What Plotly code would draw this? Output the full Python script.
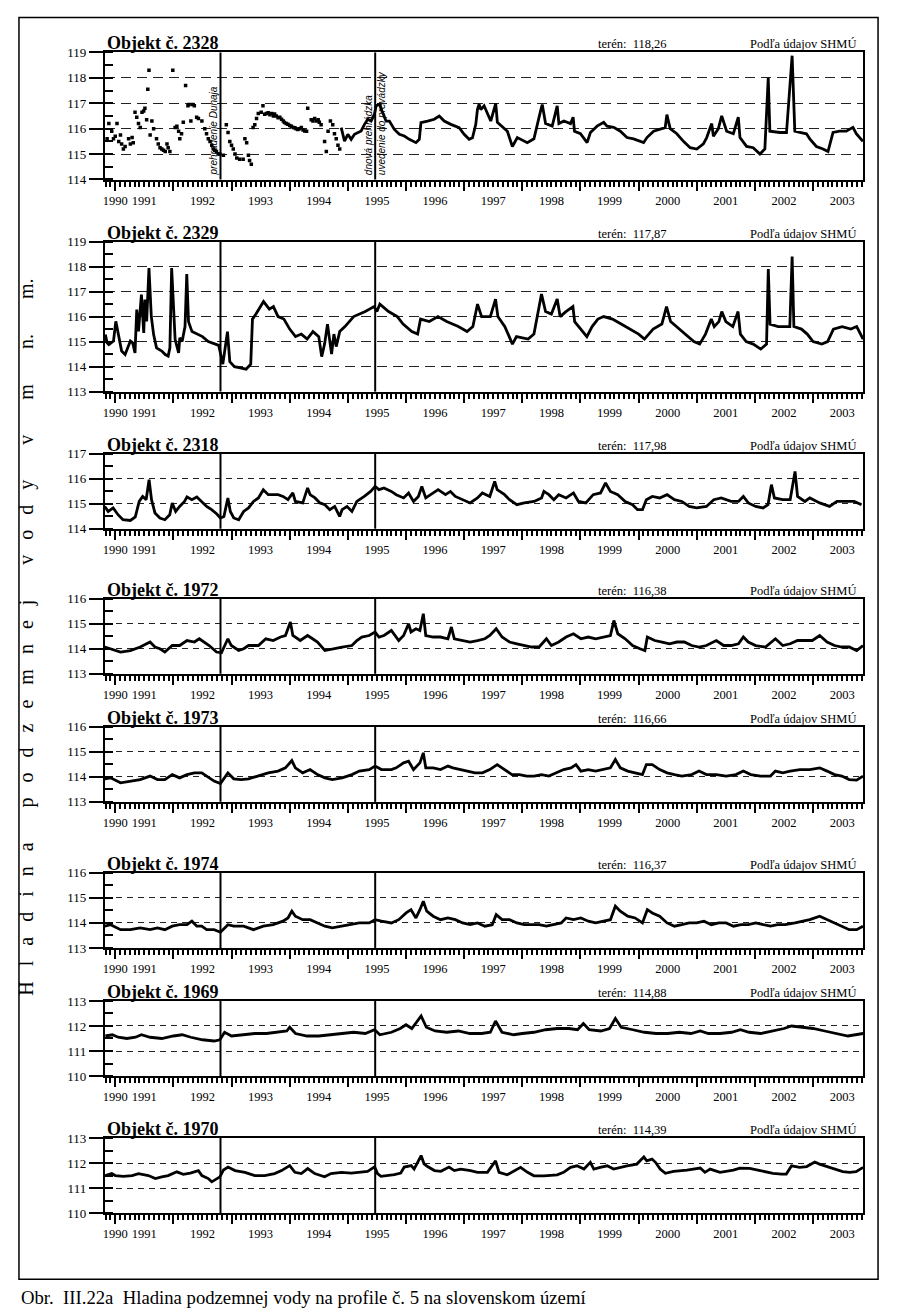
import plotly.graph_objects as go

W, H = 900, 1313
FONT = "Liberation Serif"

OBJECTS = ["2328", "2329", "2318", "1972", "1973", "1974", "1969", "1970"]
TERRAIN = ["118,26", "117,87", "117,98", "116,38", "116,66", "116,37", "114,88", "114,39"]
Y_RANGES = [(114, 119), (113, 119), (114, 117), (113, 116), (113, 116), (113, 116), (110, 113), (110, 113)]
X_RANGE = [1990.82, 2003.86]
YEAR_TICKS = list(range(1991, 2004))
YEAR_LABELS = [str(y) for y in range(1990, 2004)]
YEAR_LABEL_POS = [1991.0] + [y + 0.5 for y in range(1991, 2004)]
EVENTS = [1992.81, 1995.47]

# ---- Objekt 2328: sparse measurements (dots) ----
T2328_DOTS = [
    1990.86, 1990.89, 1990.94, 1990.97, 1991.0, 1991.03, 1991.06, 1991.09, 1991.11, 1991.14,
    1991.17, 1991.23, 1991.26, 1991.29, 1991.31, 1991.34, 1991.37, 1991.4, 1991.43, 1991.46,
    1991.49, 1991.51, 1991.54, 1991.56, 1991.58, 1991.6, 1991.63, 1991.66, 1991.71, 1991.74,
    1991.77, 1991.8, 1991.83, 1991.86, 1991.89, 1991.91, 1991.94, 1991.99, 1992.03, 1992.06,
    1992.09, 1992.11, 1992.14, 1992.17, 1992.21, 1992.25, 1992.27, 1992.3, 1992.33, 1992.36,
    1992.4, 1992.43, 1992.49, 1992.54, 1992.57, 1992.6, 1992.63, 1992.66, 1992.69, 1992.71,
    1992.74, 1992.77, 1992.8, 1992.86, 1992.91, 1992.94, 1992.97, 1993.0, 1993.03, 1993.06,
    1993.09, 1993.14, 1993.2, 1993.23, 1993.26, 1993.29, 1993.31, 1993.34, 1993.37, 1993.4,
    1993.43, 1993.46, 1993.51, 1993.54, 1993.57, 1993.6, 1993.63, 1993.66, 1993.69, 1993.72,
    1993.74, 1993.77, 1993.8, 1993.83, 1993.86, 1993.89, 1993.91, 1993.94, 1993.97, 1994.0,
    1994.03, 1994.06, 1994.09, 1994.11, 1994.14, 1994.17, 1994.2, 1994.23, 1994.26, 1994.29,
    1994.31, 1994.37, 1994.4, 1994.43, 1994.46, 1994.49, 1994.51, 1994.54, 1994.6, 1994.63,
    1994.66, 1994.7, 1994.74, 1994.77, 1994.8, 1994.83, 1994.86,
]
V2328_DOTS = [
    115.6, 116.2, 115.9, 115.6, 115.7, 116.2, 115.5, 115.75, 115.4, 115.2,
    115.3, 115.6, 115.4, 115.65, 115.45, 116.65, 116.45, 116.2, 116.05, 116.65,
    116.7, 116.8, 116.35, 117.55, 118.3, 115.75, 116.3, 116.0, 115.6, 115.4,
    115.25, 115.2, 115.15, 115.1, 115.4, 115.25, 115.1, 118.3, 116.05, 116.1,
    115.9, 115.6, 115.8, 116.25, 117.7, 116.9, 116.95, 116.3, 116.95, 116.9,
    116.45, 116.4, 116.3, 116.0, 115.8, 115.6, 115.5, 115.35, 115.2, 115.15,
    115.1, 115.0, 115.0, 114.95, 116.15, 115.85, 115.5, 115.35, 115.2, 115.0,
    114.85, 114.8, 114.8, 115.6, 115.45, 114.95, 114.75, 114.6, 116.05, 116.15,
    116.4, 116.6, 116.65, 116.9, 116.57, 116.6, 116.63, 116.55, 116.6, 116.5,
    116.58, 116.5, 116.43, 116.45, 116.37, 116.3, 116.24, 116.2, 116.17, 116.12,
    116.1, 116.05, 116.04, 116.0, 115.97, 116.0, 116.05, 115.95, 115.91, 115.9,
    116.8, 116.35, 116.3, 116.4, 116.3, 116.35, 116.25, 116.15, 115.5, 115.1,
    115.9, 116.3, 116.15, 115.8, 115.6, 115.35, 115.2,
]

# ---- Objekt 2328: continuous record ----
T2328 = [
    1994.886, 1994.914, 1994.943, 1995.0, 1995.057, 1995.114, 1995.171, 1995.229, 1995.286, 1995.343,
    1995.4, 1995.457, 1995.486, 1995.543, 1995.6, 1995.657, 1995.714, 1995.8, 1995.886, 1995.971,
    1996.057, 1996.171, 1996.229, 1996.257, 1996.371, 1996.486, 1996.571, 1996.657, 1996.771, 1996.857,
    1996.914, 1997.0, 1997.086, 1997.143, 1997.2, 1997.229, 1997.257, 1997.286, 1997.343, 1997.457,
    1997.543, 1997.571, 1997.743, 1997.829, 1997.914, 1998.086, 1998.2, 1998.314, 1998.343, 1998.4,
    1998.514, 1998.6, 1998.629, 1998.714, 1998.829, 1998.874, 1998.897, 1999.0, 1999.114, 1999.171,
    1999.286, 1999.4, 1999.457, 1999.571, 1999.686, 1999.8, 1999.914, 2000.086, 2000.143, 2000.257,
    2000.371, 2000.457, 2000.486, 2000.543, 2000.657, 2000.771, 2000.886, 2001.0, 2001.114, 2001.171,
    2001.257, 2001.286, 2001.371, 2001.429, 2001.514, 2001.629, 2001.714, 2001.743, 2001.857, 2001.971,
    2002.086, 2002.171, 2002.229, 2002.257, 2002.429, 2002.543, 2002.64, 2002.686, 2002.771, 2002.886,
    2002.943, 2003.057, 2003.171, 2003.257, 2003.343, 2003.457, 2003.571, 2003.686, 2003.743, 2003.857,
]
V2328 = [
    116.04, 115.71, 115.51, 115.78, 115.58, 115.78, 115.84, 115.91, 116.17, 116.37,
    116.3, 116.57, 116.9, 116.96, 116.63, 116.3, 116.3, 115.97, 115.78, 115.71,
    115.58, 115.45, 115.58, 116.24, 116.3, 116.37, 116.5, 116.3, 116.17, 116.1,
    116.04, 115.78, 115.58, 115.64, 116.17, 116.76, 116.96, 116.75, 116.9, 116.3,
    117.0, 116.25, 115.9, 115.3, 115.65, 115.45, 115.6, 116.7, 116.95, 116.2,
    116.1, 116.9, 116.2, 116.3, 116.2, 116.45, 115.9, 115.8, 115.45, 115.85,
    116.1, 116.25, 116.1, 116.05, 115.9, 115.65, 115.6, 115.45, 115.65, 115.9,
    115.97, 116.04, 116.55, 116.0, 115.8, 115.5, 115.25, 115.2, 115.4, 115.65,
    116.2, 115.7, 116.0, 116.5, 115.9, 115.8, 116.45, 115.65, 115.3, 115.25,
    115.0, 115.2, 118.0, 115.9, 115.85, 115.85, 118.87, 115.9, 115.85, 115.8,
    115.6, 115.3, 115.2, 115.1, 115.85, 115.9, 115.9, 116.05, 115.8, 115.5,
]

# ---- Objekt 2329 ----
T2329 = [
    1990.83, 1990.86, 1990.89, 1990.94, 1990.97, 1991.01, 1991.04, 1991.07, 1991.11, 1991.17,
    1991.23, 1991.26, 1991.3, 1991.34, 1991.37, 1991.4, 1991.45, 1991.49, 1991.51, 1991.54,
    1991.58, 1991.62, 1991.66, 1991.71, 1991.8, 1991.86, 1991.91, 1991.94, 1991.97, 1992.0,
    1992.03, 1992.09, 1992.11, 1992.15, 1992.2, 1992.23, 1992.26, 1992.32, 1992.4, 1992.5,
    1992.6, 1992.7, 1992.78, 1992.85, 1992.93, 1992.97, 1993.05, 1993.15, 1993.25, 1993.33,
    1993.36, 1993.42, 1993.5, 1993.55, 1993.65, 1993.72, 1993.8, 1993.9, 1994.0, 1994.1,
    1994.2, 1994.3, 1994.4, 1994.5, 1994.55, 1994.6, 1994.65, 1994.72, 1994.76, 1994.8,
    1994.86, 1994.95, 1995.1, 1995.3, 1995.45, 1995.5, 1995.55, 1995.7, 1995.85, 1995.95,
    1996.1, 1996.2, 1996.25, 1996.4, 1996.55, 1996.7, 1996.9, 1997.05, 1997.15, 1997.23,
    1997.3, 1997.45, 1997.54, 1997.58, 1997.7, 1997.8, 1997.83, 1997.9, 1998.1, 1998.2,
    1998.33, 1998.4, 1998.5, 1998.6, 1998.65, 1998.75, 1998.87, 1998.9, 1999.0, 1999.11,
    1999.2, 1999.3, 1999.4, 1999.55, 1999.7, 1999.85, 2000.0, 2000.1, 2000.25, 2000.4,
    2000.48, 2000.55, 2000.65, 2000.8, 2000.95, 2001.05, 2001.15, 2001.25, 2001.3, 2001.38,
    2001.43, 2001.5, 2001.62, 2001.71, 2001.75, 2001.85, 2001.97, 2002.1, 2002.2, 2002.23,
    2002.26, 2002.4, 2002.6, 2002.64, 2002.67, 2002.8, 2002.9, 2003.0, 2003.15, 2003.25,
    2003.35, 2003.5, 2003.65, 2003.75, 2003.86,
]
V2329 = [
    115.28, 114.95, 114.88, 114.95, 115.02, 115.81, 115.48, 115.08, 114.62, 114.48,
    114.82, 115.02, 114.95, 114.55, 116.28, 115.41, 116.88, 115.35, 116.68, 115.81,
    117.94, 116.01, 115.28, 114.75, 114.62, 114.48, 114.42, 114.75, 117.94, 116.68,
    115.08, 114.55, 115.15, 115.0, 115.6, 117.7, 115.8, 115.4, 115.3, 115.2,
    115.0, 114.9, 114.85, 114.1, 115.4, 114.2, 114.0, 113.95, 113.9, 114.1,
    115.9, 116.1, 116.4, 116.6, 116.3, 116.4, 116.0, 115.9, 115.5, 115.2,
    115.3, 115.1, 115.4, 115.2, 114.4, 114.9, 115.7, 114.5, 115.3, 114.8,
    115.4, 115.6, 116.0, 116.2, 116.4, 116.2, 116.5, 116.2, 116.0, 115.7,
    115.4, 115.3, 115.9, 115.8, 116.0, 115.8, 115.6, 115.4, 115.6, 116.5,
    116.0, 116.0, 116.7, 116.0, 115.6, 115.1, 114.9, 115.2, 115.1, 115.3,
    116.9, 116.2, 116.1, 116.7, 116.0, 116.2, 116.4, 115.8, 115.5, 115.2,
    115.6, 115.9, 116.0, 115.9, 115.7, 115.5, 115.3, 115.1, 115.5, 115.7,
    116.4, 115.8, 115.6, 115.3, 115.0, 114.9, 115.3, 115.9, 115.6, 115.8,
    116.2, 115.8, 115.6, 116.2, 115.3, 115.0, 114.9, 114.7, 114.9, 117.9,
    115.7, 115.6, 115.6, 118.4, 115.6, 115.5, 115.3, 115.0, 114.9, 115.0,
    115.5, 115.6, 115.5, 115.6, 115.1,
]

# ---- Objekt 2318 ----
T2318 = [
    1990.82, 1990.879, 1990.964, 1991.048, 1991.133, 1991.26, 1991.345, 1991.412, 1991.472, 1991.531,
    1991.582, 1991.624, 1991.683, 1991.768, 1991.853, 1991.937, 1991.98, 1992.039, 1992.107, 1992.191,
    1992.234, 1992.318, 1992.403, 1992.488, 1992.572, 1992.657, 1992.742, 1992.81, 1992.869, 1992.937,
    1992.979, 1993.038, 1993.123, 1993.208, 1993.292, 1993.377, 1993.462, 1993.546, 1993.631, 1993.8,
    1993.885, 1993.97, 1994.054, 1994.097, 1994.224, 1994.308, 1994.351, 1994.435, 1994.52, 1994.605,
    1994.689, 1994.774, 1994.859, 1994.901, 1994.986, 1995.07, 1995.155, 1995.282, 1995.392, 1995.468,
    1995.536, 1995.621, 1995.748, 1995.832, 1995.959, 1996.044, 1996.129, 1996.213, 1996.272, 1996.34,
    1996.425, 1996.552, 1996.679, 1996.764, 1996.848, 1996.975, 1997.102, 1997.229, 1997.314, 1997.441,
    1997.525, 1997.568, 1997.695, 1997.78, 1997.907, 1998.034, 1998.203, 1998.33, 1998.372, 1998.457,
    1998.542, 1998.626, 1998.753, 1998.88, 1998.965, 1999.092, 1999.219, 1999.346, 1999.431, 1999.515,
    1999.642, 1999.769, 1999.896, 1999.981, 2000.066, 2000.133, 2000.235, 2000.362, 2000.489, 2000.616,
    2000.743, 2000.87, 2000.997, 2001.166, 2001.293, 2001.42, 2001.59, 2001.717, 2001.801, 2001.886,
    2002.013, 2002.14, 2002.225, 2002.284, 2002.335, 2002.479, 2002.606, 2002.69, 2002.733, 2002.86,
    2002.944, 2003.114, 2003.283, 2003.41, 2003.537, 2003.707, 2003.834,
]
V2318 = [
    114.89, 114.69, 114.83, 114.56, 114.36, 114.33, 114.47, 115.09, 115.29, 115.16,
    115.96, 115.16, 114.63, 114.43, 114.36, 114.56, 115.03, 114.69, 114.89, 115.09,
    115.27, 115.16, 115.27, 115.09, 114.89, 114.76, 114.6, 114.43, 114.49, 115.23,
    114.69, 114.43, 114.36, 114.69, 114.83, 115.09, 115.23, 115.56, 115.36, 115.36,
    115.29, 115.16, 115.43, 115.09, 115.03, 115.63, 115.36, 115.23, 115.03, 114.96,
    114.76, 114.89, 114.49, 114.76, 114.89, 114.69, 115.09, 115.29, 115.49, 115.69,
    115.56, 115.63, 115.49, 115.36, 115.23, 115.43, 115.09, 115.29, 115.69, 115.23,
    115.36, 115.56, 115.36, 115.49, 115.29, 115.16, 115.03, 115.23, 115.43, 115.29,
    115.89, 115.56, 115.36, 115.16, 114.96, 115.03, 115.09, 115.23, 115.49, 115.36,
    115.16, 115.36, 115.23, 115.43, 115.09, 115.03, 115.36, 115.43, 115.83, 115.49,
    115.36, 115.09, 114.96, 114.76, 114.76, 115.16, 115.29, 115.23, 115.36, 115.16,
    115.09, 114.89, 114.83, 114.89, 115.16, 115.23, 115.09, 115.09, 115.29, 115.03,
    114.89, 114.83, 114.96, 115.76, 115.23, 115.16, 115.16, 116.29, 115.29, 115.09,
    115.23, 115.03, 114.89, 115.09, 115.09, 115.09, 114.96,
]

# ---- Objekt 1972 ----
T1972 = [
    1990.82, 1990.921, 1991.091, 1991.26, 1991.429, 1991.599, 1991.683, 1991.768, 1991.853, 1991.98,
    1992.107, 1992.234, 1992.361, 1992.445, 1992.53, 1992.615, 1992.742, 1992.826, 1992.937, 1992.996,
    1993.123, 1993.208, 1993.292, 1993.462, 1993.589, 1993.716, 1993.843, 1993.927, 1994.012, 1994.054,
    1994.181, 1994.308, 1994.393, 1994.478, 1994.605, 1994.732, 1994.901, 1995.07, 1995.155, 1995.24,
    1995.367, 1995.468, 1995.536, 1995.621, 1995.748, 1995.875, 1995.959, 1996.044, 1996.086, 1996.171,
    1996.239, 1996.298, 1996.34, 1996.467, 1996.594, 1996.721, 1996.78, 1996.831, 1996.975, 1997.102,
    1997.229, 1997.356, 1997.441, 1997.551, 1997.652, 1997.78, 1997.907, 1998.034, 1998.161, 1998.288,
    1998.415, 1998.5, 1998.626, 1998.753, 1998.88, 1999.007, 1999.134, 1999.261, 1999.388, 1999.515,
    1999.575, 1999.642, 1999.769, 1999.896, 2000.023, 2000.108, 2000.15, 2000.277, 2000.404, 2000.531,
    2000.658, 2000.785, 2000.912, 2001.039, 2001.166, 2001.336, 2001.463, 2001.59, 2001.717, 2001.801,
    2001.886, 2002.013, 2002.182, 2002.352, 2002.479, 2002.606, 2002.733, 2002.86, 2002.987, 2003.114,
    2003.241, 2003.368, 2003.495, 2003.622, 2003.749, 2003.859,
]
V1972 = [
    114.07, 114.0, 113.87, 113.93, 114.07, 114.27, 114.07, 114.0, 113.87, 114.13,
    114.13, 114.33, 114.27, 114.4, 114.27, 114.13, 113.87, 113.84, 114.4, 114.13,
    113.93, 114.0, 114.13, 114.13, 114.4, 114.33, 114.47, 114.53, 115.07, 114.53,
    114.33, 114.53, 114.4, 114.27, 113.93, 114.0, 114.07, 114.13, 114.33, 114.47,
    114.53, 114.67, 114.47, 114.53, 114.73, 114.33, 114.53, 115.0, 114.67, 114.8,
    114.73, 115.4, 114.53, 114.47, 114.47, 114.4, 114.87, 114.4, 114.33, 114.27,
    114.33, 114.4, 114.53, 114.8, 114.47, 114.27, 114.2, 114.13, 114.07, 114.07,
    114.4, 114.13, 114.27, 114.47, 114.6, 114.4, 114.47, 114.4, 114.47, 114.53,
    115.13, 114.6, 114.4, 114.13, 114.0, 113.93, 114.47, 114.33, 114.27, 114.2,
    114.27, 114.27, 114.13, 114.07, 114.13, 114.33, 114.13, 114.13, 114.2, 114.47,
    114.27, 114.13, 114.07, 114.4, 114.13, 114.2, 114.33, 114.33, 114.33, 114.53,
    114.27, 114.13, 114.07, 114.07, 113.93, 114.13,
]

# ---- Objekt 1973 ----
T1973 = [
    1990.82, 1990.921, 1991.091, 1991.26, 1991.429, 1991.599, 1991.726, 1991.853, 1991.98, 1992.107,
    1992.234, 1992.361, 1992.488, 1992.572, 1992.7, 1992.81, 1992.937, 1993.038, 1993.165, 1993.292,
    1993.462, 1993.631, 1993.8, 1993.927, 1994.037, 1994.097, 1994.224, 1994.351, 1994.478, 1994.605,
    1994.732, 1994.901, 1995.07, 1995.197, 1995.367, 1995.468, 1995.578, 1995.748, 1995.832, 1995.959,
    1996.044, 1996.129, 1996.239, 1996.298, 1996.34, 1996.467, 1996.594, 1996.721, 1996.806, 1996.933,
    1997.06, 1997.187, 1997.314, 1997.441, 1997.568, 1997.695, 1997.822, 1997.949, 1998.076, 1998.203,
    1998.33, 1998.457, 1998.584, 1998.711, 1998.838, 1998.923, 1999.007, 1999.134, 1999.261, 1999.388,
    1999.515, 1999.6, 1999.685, 1999.812, 1999.939, 2000.066, 2000.133, 2000.235, 2000.362, 2000.489,
    2000.616, 2000.743, 2000.912, 2001.039, 2001.166, 2001.336, 2001.505, 2001.674, 2001.801, 2001.928,
    2002.098, 2002.267, 2002.352, 2002.479, 2002.606, 2002.775, 2002.944, 2003.114, 2003.241, 2003.368,
    2003.495, 2003.622, 2003.749, 2003.859,
]
V1973 = [
    113.92, 113.96, 113.76, 113.83, 113.89, 114.03, 113.89, 113.89, 114.09, 113.96,
    114.09, 114.16, 114.16, 114.03, 113.83, 113.73, 114.16, 113.92, 113.89, 113.92,
    114.03, 114.16, 114.23, 114.36, 114.65, 114.36, 114.16, 114.29, 114.09, 113.96,
    113.89, 113.96, 114.09, 114.23, 114.29, 114.43, 114.29, 114.29, 114.36, 114.56,
    114.63, 114.29, 114.56, 114.96, 114.36, 114.36, 114.29, 114.43, 114.36, 114.29,
    114.23, 114.16, 114.16, 114.29, 114.49, 114.29, 114.09, 114.09, 114.03, 114.03,
    114.09, 114.03, 114.16, 114.29, 114.36, 114.49, 114.23, 114.29, 114.23, 114.29,
    114.36, 114.69, 114.36, 114.23, 114.16, 114.09, 114.49, 114.49, 114.29, 114.16,
    114.09, 114.03, 114.09, 114.23, 114.09, 114.09, 114.03, 114.09, 114.23, 114.09,
    114.03, 114.03, 114.23, 114.16, 114.23, 114.29, 114.29, 114.36, 114.23, 114.09,
    114.03, 113.89, 113.87, 114.03,
]

# ---- Objekt 1974 ----
T1974 = [
    1990.82, 1990.921, 1991.091, 1991.26, 1991.429, 1991.599, 1991.726, 1991.853, 1991.98, 1992.107,
    1992.234, 1992.318, 1992.403, 1992.488, 1992.572, 1992.7, 1992.81, 1992.937, 1993.038, 1993.208,
    1993.377, 1993.546, 1993.716, 1993.885, 1993.97, 1994.037, 1994.097, 1994.224, 1994.351, 1994.478,
    1994.605, 1994.732, 1994.901, 1995.07, 1995.197, 1995.367, 1995.468, 1995.578, 1995.748, 1995.875,
    1996.002, 1996.086, 1996.171, 1996.239, 1996.298, 1996.357, 1996.467, 1996.594, 1996.721, 1996.848,
    1996.975, 1997.102, 1997.229, 1997.356, 1997.483, 1997.551, 1997.652, 1997.78, 1997.907, 1998.034,
    1998.161, 1998.288, 1998.415, 1998.542, 1998.669, 1998.753, 1998.88, 1999.007, 1999.134, 1999.261,
    1999.388, 1999.515, 1999.6, 1999.685, 1999.812, 1999.939, 2000.066, 2000.15, 2000.235, 2000.362,
    2000.489, 2000.616, 2000.743, 2000.87, 2000.997, 2001.124, 2001.251, 2001.378, 2001.505, 2001.632,
    2001.759, 2001.886, 2002.013, 2002.14, 2002.267, 2002.394, 2002.521, 2002.69, 2002.817, 2002.944,
    2003.114, 2003.241, 2003.368, 2003.495, 2003.622, 2003.749, 2003.859,
]
V1974 = [
    113.87, 113.93, 113.73, 113.73, 113.8, 113.73, 113.8, 113.73, 113.87, 113.93,
    113.93, 114.07, 113.87, 113.87, 113.73, 113.73, 113.63, 113.93, 113.87, 113.87,
    113.73, 113.87, 113.93, 114.07, 114.2, 114.47, 114.27, 114.13, 114.13, 114.0,
    113.87, 113.8, 113.87, 113.93, 114.0, 114.0, 114.13, 114.07, 114.0, 114.13,
    114.4, 114.53, 114.2, 114.53, 114.87, 114.47, 114.27, 114.13, 114.2, 114.13,
    114.0, 113.93, 114.0, 113.87, 113.93, 114.33, 114.13, 114.13, 114.0, 113.93,
    113.93, 113.93, 113.87, 113.93, 114.0, 114.2, 114.13, 114.2, 114.07, 114.0,
    114.07, 114.13, 114.67, 114.47, 114.27, 114.2, 114.0, 114.53, 114.4, 114.27,
    114.0, 113.87, 113.93, 114.0, 114.0, 114.07, 113.93, 114.0, 114.0, 113.87,
    113.93, 113.93, 114.0, 113.93, 113.87, 113.93, 113.93, 114.0, 114.07, 114.13,
    114.27, 114.13, 114.0, 113.87, 113.73, 113.73, 113.87,
]

# ---- Objekt 1969 ----
T1969 = [
    1990.83, 1990.95, 1991.05, 1991.2, 1991.35, 1991.45, 1991.6, 1991.8, 1992.0, 1992.15,
    1992.3, 1992.5, 1992.7, 1992.8, 1992.88, 1993.0, 1993.2, 1993.4, 1993.6, 1993.8,
    1993.95, 1994.0, 1994.1, 1994.3, 1994.5, 1994.7, 1994.9, 1995.1, 1995.3, 1995.46,
    1995.55, 1995.75, 1995.9, 1996.0, 1996.1, 1996.26, 1996.35, 1996.5, 1996.7, 1996.9,
    1997.1, 1997.3, 1997.45, 1997.54, 1997.65, 1997.85, 1998.0, 1998.2, 1998.4, 1998.6,
    1998.8, 1998.95, 1999.05, 1999.15, 1999.35, 1999.5, 1999.6, 1999.7, 1999.9, 2000.1,
    2000.3, 2000.5, 2000.7, 2000.9, 2001.06, 2001.2, 2001.4, 2001.6, 2001.75, 2001.9,
    2002.1, 2002.3, 2002.5, 2002.63, 2002.8, 2003.0, 2003.2, 2003.4, 2003.6, 2003.86,
]
V1969 = [
    111.6, 111.65, 111.55, 111.5, 111.55, 111.65, 111.55, 111.5, 111.6, 111.65,
    111.55, 111.45, 111.4, 111.45, 111.75, 111.6, 111.65, 111.7, 111.7, 111.75,
    111.8, 111.95, 111.7, 111.6, 111.6, 111.65, 111.7, 111.75, 111.7, 111.85,
    111.65, 111.75, 111.9, 112.05, 111.9, 112.4, 111.95, 111.8, 111.75, 111.8,
    111.7, 111.7, 111.75, 112.2, 111.75, 111.65, 111.7, 111.75, 111.85, 111.9,
    111.9, 111.85, 112.1, 111.85, 111.8, 111.9, 112.3, 111.95, 111.85, 111.75,
    111.7, 111.7, 111.75, 111.7, 111.8, 111.7, 111.7, 111.75, 111.85, 111.75,
    111.7, 111.8, 111.9, 112.0, 111.95, 111.9, 111.8, 111.7, 111.6, 111.7,
]

# ---- Objekt 1970 ----
T1970 = [
    1990.83, 1990.94, 1991.0, 1991.14, 1991.29, 1991.4, 1991.57, 1991.69, 1991.8, 1991.91,
    1992.06, 1992.17, 1992.29, 1992.43, 1992.49, 1992.6, 1992.66, 1992.74, 1992.8, 1992.86,
    1992.94, 1993.06, 1993.23, 1993.4, 1993.57, 1993.74, 1993.86, 1994.0, 1994.09, 1994.2,
    1994.31, 1994.43, 1994.6, 1994.71, 1994.89, 1995.06, 1995.23, 1995.34, 1995.46, 1995.51,
    1995.57, 1995.69, 1995.8, 1995.91, 1995.97, 1996.09, 1996.14, 1996.26, 1996.31, 1996.37,
    1996.49, 1996.6, 1996.74, 1996.83, 1996.94, 1997.11, 1997.23, 1997.29, 1997.4, 1997.54,
    1997.6, 1997.74, 1997.86, 1997.97, 1998.09, 1998.2, 1998.37, 1998.6, 1998.71, 1998.83,
    1998.94, 1999.06, 1999.17, 1999.23, 1999.34, 1999.46, 1999.57, 1999.69, 1999.8, 1999.97,
    2000.09, 2000.14, 2000.23, 2000.29, 2000.37, 2000.46, 2000.6, 2000.83, 2001.06, 2001.14,
    2001.23, 2001.4, 2001.63, 2001.74, 2001.91, 2002.09, 2002.31, 2002.46, 2002.54, 2002.63,
    2002.77, 2002.89, 2003.03, 2003.11, 2003.34, 2003.51, 2003.63, 2003.74, 2003.86,
]
V1970 = [
    111.5, 111.58, 111.5, 111.47, 111.5, 111.58, 111.5, 111.38, 111.45, 111.5,
    111.65, 111.55, 111.6, 111.7, 111.5, 111.38, 111.25, 111.38, 111.45, 111.72,
    111.84, 111.7, 111.63, 111.5, 111.5, 111.58, 111.7, 111.9, 111.63, 111.58,
    111.78, 111.58, 111.45, 111.58, 111.63, 111.6, 111.63, 111.67, 111.85, 111.58,
    111.47, 111.5, 111.54, 111.6, 111.84, 111.9, 111.76, 112.3, 111.97, 111.86,
    111.7, 111.67, 111.84, 111.7, 111.76, 111.7, 111.63, 111.63, 111.63, 112.09,
    111.63, 111.53, 111.7, 111.83, 111.63, 111.49, 111.49, 111.53, 111.63, 111.83,
    111.89, 111.76, 112.03, 111.76, 111.83, 111.89, 111.76, 111.83, 111.89, 111.96,
    112.25, 112.09, 112.16, 112.03, 111.76, 111.59, 111.67, 111.72, 111.8, 111.63,
    111.76, 111.63, 111.72, 111.8, 111.79, 111.7, 111.59, 111.56, 111.56, 111.89,
    111.83, 111.86, 112.04, 111.96, 111.79, 111.66, 111.63, 111.66, 111.83,
]

SERIES = [
    (T2328, V2328), (T2329, V2329), (T2318, V2318), (T1972, V1972),
    (T1973, V1973), (T1974, V1974), (T1969, V1969), (T1970, V1970),
]

# ---- layout geometry (target screen pixels) ----
PANEL_TOP = [53, 242, 454, 599, 727, 873, 1001, 1138]
PANEL_BOT = [180, 392, 529, 674, 802, 948, 1076, 1213]
X0, X1 = 103, 863
GRID_DASH = ["10px,6px", "10px,6px"] + ["6px,5px"] * 6


def aid(n):
    return "" if n == 1 else str(n)


def px(x):
    return x / W


def py(y):
    # small vertical calibration of the captured page (observed ~1.2 % squeeze about the centre)
    yy = (y - 7.6) / 0.988
    return 1 - yy / H


fig = go.Figure()
layout = {}
annotations = []
shapes = []

for i in range(8):
    k = i + 1
    xk, yk = "x" + aid(k), "y" + aid(k)
    yov = "y" + aid(8 + k)
    xov = "x" + aid(16 + k)
    xd = [px(X0), px(X1)]
    yd = [py(PANEL_BOT[i]), py(PANEL_TOP[i])]
    yr = list(Y_RANGES[i])

    layout["xaxis" + aid(k)] = dict(
        domain=xd, range=X_RANGE, anchor=yk,
        tickmode="array", tickvals=YEAR_TICKS, showticklabels=False,
        ticks="outside", ticklen=9, tickwidth=2, tickcolor="black",
        minor=dict(tick0=1991, dtick=1 / 12, ticks="outside", ticklen=5,
                   tickwidth=1.5, tickcolor="black", showgrid=False),
        showline=True, linecolor="black", linewidth=2, mirror=True,
        showgrid=False, zeroline=False, fixedrange=True,
    )
    layout["xaxis" + aid(16 + k)] = dict(
        overlaying=xk, anchor=yk, side="bottom", range=X_RANGE,
        tickmode="array", tickvals=YEAR_LABEL_POS, ticktext=YEAR_LABELS,
        ticks="outside", ticklen=9, tickcolor="rgba(0,0,0,0)",
        tickfont=dict(family=FONT, size=12.5, color="black"),
        showline=False, showgrid=False, zeroline=False,
    )
    layout["yaxis" + aid(k)] = dict(
        domain=yd, range=yr, anchor=xk,
        tick0=0, dtick=1, ticks="outside", ticklen=14, tickwidth=1.5, tickcolor="black",
        tickfont=dict(family=FONT, size=13, color="black"),
        showgrid=True, gridcolor="#222", griddash=GRID_DASH[i], gridwidth=1,
        minor=dict(tick0=0, dtick=0.5, ticks="inside", ticklen=8, tickwidth=1.5,
                   tickcolor="black", showgrid=False),
        showline=True, linecolor="black", linewidth=2, mirror=True,
        zeroline=False, fixedrange=True,
    )
    layout["yaxis" + aid(8 + k)] = dict(
        overlaying=yk, anchor=xk, side="left", range=yr,
        tick0=0, dtick=1, ticks="inside", ticklen=8, tickwidth=1.5, tickcolor="black",
        showticklabels=False, showgrid=False, showline=False, zeroline=False,
    )

    t, v = SERIES[i]
    fig.add_trace(go.Scatter(x=t, y=v, mode="lines", line=dict(color="black", width=2.8),
                             xaxis=xk, yaxis=yk, showlegend=False, hoverinfo="skip"))
    # helper (empty) traces so the overlay axes are drawn
    fig.add_trace(go.Scatter(x=[], y=[], xaxis=xk, yaxis=yov,
                             showlegend=False, hoverinfo="skip"))
    fig.add_trace(go.Scatter(x=[], y=[], xaxis=xov, yaxis=yk,
                             showlegend=False, hoverinfo="skip"))

    for ev in EVENTS:
        shapes.append(dict(type="line", xref=xk, yref=yk + " domain",
                           x0=ev, x1=ev, y0=0, y1=1, line=dict(color="black", width=2)))

    annotations.append(dict(text=f"<b>Objekt č. {OBJECTS[i]}</b>", xref=xk + " domain",
                            yref=yk + " domain", x=0, y=1, xanchor="left", yanchor="bottom",
                            showarrow=False, yshift=-3,
                            font=dict(family=FONT, size=18, color="black")))
    annotations.append(dict(text=f"terén:  {TERRAIN[i]}", xref=xk + " domain",
                            yref=yk + " domain", x=0.696, y=1, xanchor="center", yanchor="bottom",
                            showarrow=False, yshift=-1,
                            font=dict(family=FONT, size=12.5, color="black")))
    annotations.append(dict(text="Podľa údajov SHMÚ", xref=xk + " domain",
                            yref=yk + " domain", x=0.993, y=1, xanchor="right", yanchor="bottom",
                            showarrow=False, yshift=-1,
                            font=dict(family=FONT, size=12.5, color="black")))

# dots of the sparse early record in panel 1
fig.add_trace(go.Scatter(x=T2328_DOTS, y=V2328_DOTS, mode="markers",
                         marker=dict(color="black", size=3.5, symbol="square"),
                         xaxis="x", yaxis="y", showlegend=False, hoverinfo="skip"))

# event labels in panel 1
annotations.append(dict(text="<i>prehradenie Dunaja</i>", xref="x", yref="y",
                        x=EVENTS[0], y=114.1, xanchor="right", yanchor="bottom", textangle=-90,
                        showarrow=False, font=dict(family="Liberation Sans", size=10, color="black")))
annotations.append(dict(text="<i>dnová prehrádzka<br>uvedenie do prevádzky</i>", xref="x", yref="y",
                        x=EVENTS[1], y=114.1, xanchor="center", yanchor="bottom", textangle=-90,
                        align="left", showarrow=False,
                        font=dict(family="Liberation Sans", size=10, color="black")))

# vertical axis title (letter-spaced)
SP = "\u00a0"
words = ["Hladina", "podzemnej", "vody", "v", "m", "n.", "m."]
ytitle = (SP * 7).join((SP * 3).join(list(w)) if w not in ("n.", "m.") else w for w in words)
annotations.append(dict(text=ytitle, xref="paper", yref="paper", x=px(25), y=py(637),
                        xanchor="center", yanchor="middle", textangle=-90, showarrow=False,
                        font=dict(family=FONT, size=20, color="black")))

# caption
annotations.append(dict(text="Obr.  III.22a  Hladina podzemnej vody na profile č. 5 na slovenskom území",
                        xref="paper", yref="paper", x=px(17), y=py(1297),
                        xanchor="left", yanchor="middle", showarrow=False,
                        font=dict(family=FONT, size=18.7, color="black")))

# outer frame
shapes.append(dict(type="rect", xref="paper", yref="paper",
                   x0=px(17), x1=px(878), y0=py(1279), y1=py(18),
                   line=dict(color="black", width=1.5)))

fig.update_layout(
    width=W, height=H, autosize=False,
    margin=dict(l=0, r=0, t=0, b=0),
    paper_bgcolor="white", plot_bgcolor="white",
    showlegend=False,
    annotations=annotations, shapes=shapes,
    **layout,
)

# remove the browser's default 8px page margin so the figure sits at the window origin
fig.write_html("out.html", config={"displayModeBar": False},
               post_script="document.body.style.margin='0px';")
